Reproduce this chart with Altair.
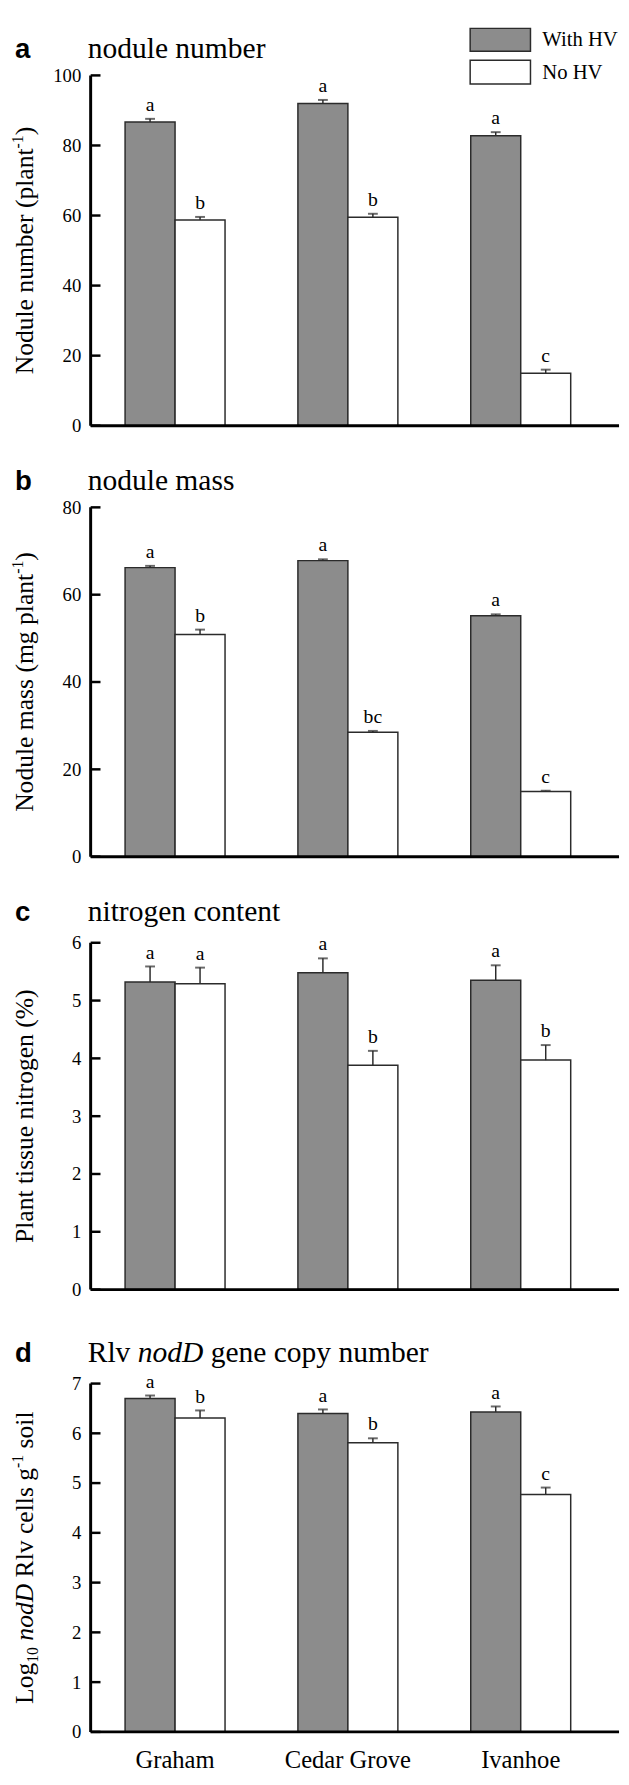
import altair as alt
import pandas as pd

# ---------------- data ----------------
cultivars = ["Graham", "Cedar Grove", "Ivanhoe"]
treatments = ["With HV", "No HV"]

# (a) nodule number
num_with = [86.7, 92.0, 82.8]
num_with_se = [0.9, 1.0, 1.0]
num_with_sig = ["a", "a", "a"]
num_no = [58.7, 59.5, 15.0]
num_no_se = [0.9, 1.0, 1.0]
num_no_sig = ["b", "b", "c"]
num_ticks = [0, 20, 40, 60, 80, 100]

# (b) nodule mass
mass_with = [66.2, 67.8, 55.2]
mass_with_se = [0.4, 0.3, 0.3]
mass_with_sig = ["a", "a", "a"]
mass_no = [50.9, 28.5, 14.9]
mass_no_se = [1.1, 0.3, 0.2]
mass_no_sig = ["b", "bc", "c"]
mass_ticks = [0, 20, 40, 60, 80]

# (c) nitrogen content
nit_with = [5.32, 5.48, 5.35]
nit_with_se = [0.27, 0.25, 0.26]
nit_with_sig = ["a", "a", "a"]
nit_no = [5.29, 3.88, 3.97]
nit_no_se = [0.28, 0.25, 0.26]
nit_no_sig = ["a", "b", "b"]
nit_ticks = [0, 1, 2, 3, 4, 5, 6]

# (d) Rlv nodD gene copy number
nod_with = [6.70, 6.40, 6.43]
nod_with_se = [0.06, 0.08, 0.11]
nod_with_sig = ["a", "a", "a"]
nod_no = [6.31, 5.81, 4.77]
nod_no_se = [0.15, 0.09, 0.14]
nod_no_sig = ["b", "b", "c"]
nod_ticks = [0, 1, 2, 3, 4, 5, 6, 7]

panel_letters = ["a", "b", "c", "d"]
panel_titles = [
    [("nodule number", "normal")],
    [("nodule mass", "normal")],
    [("nitrogen content", "normal")],
    [("Rlv ", "normal"), ("nodD", "italic"), (" gene copy number", "normal")],
]
y_titles = [
    [("Nodule number (plant", "main"), ("-1", "sup"), (")", "main")],
    [("Nodule mass (mg plant", "main"), ("-1", "sup"), (")", "main")],
    [("Plant tissue nitrogen (%)", "main")],
    [("Log", "main"), ("10", "sub"), (" ", "main"), ("nodD", "italic"),
     (" Rlv cells g", "main"), ("-1", "sup"), (" soil", "main")],
]

# ---------------- layout / style ----------------
SERIF = "Liberation Serif"
SANS = "Liberation Sans"
DARK = "#8c8c8c"
EDGE = "#2b2b2b"
W = 537
SPACING = 80
PLOT_TOP = [60.5, 499.5, 942.0, 1390.0]
PLOT_BOT = [416.5, 854.5, 1294.5, 1744.0]
TITLE_BASE = [43.0, 481.7, 920.0, 1368.3]
TITLE_SIZE = 30
YT_SIZE = 26
YT_X = -59
LEG_RECT_X = (385.7, 447.0)
LEG_RECT_Y = [(-47.8, -24.5), (-15.5, 8.8)]
LEG_TEXT_X = 459.0
LEG_TEXT_Y = [-30.2, 3.8]

TW = {' ': 250, '(': 333, ')': 333, '%': 833, '-': 333, 'C': 667, 'D': 722, 'G': 722,
      'H': 722, 'I': 333, 'L': 611, 'N': 722, 'P': 556, 'R': 667, 'V': 722, 'W': 944,
      'a': 444, 'b': 500, 'c': 444, 'd': 500, 'e': 444, 'g': 500, 'h': 500, 'i': 278,
      'l': 278, 'm': 778, 'n': 500, 'o': 500, 'p': 500, 'r': 333, 's': 389, 't': 278,
      'u': 500, 'v': 500, 'y': 500}


def tw(s, size):
    return sum(TW.get(ch, 500) for ch in s) * size / 1000.0


def text_chart(t, x, y, size, font=SERIF, style="normal", weight="normal",
               angle=0, align="left"):
    return alt.Chart(pd.DataFrame({"t": [t]})).mark_text(
        font=font, fontSize=size, fontStyle=style, fontWeight=weight,
        angle=angle, align=align, baseline="alphabetic", color="black"
    ).encode(x=alt.value(x), y=alt.value(y), text="t:N")


color_scale = alt.Scale(domain=treatments, range=[DARK, "#ffffff"])


def legend_layers():
    out = []
    for k, name in enumerate(treatments):
        d = pd.DataFrame({"treatment": [name]})
        out.append(alt.Chart(d).mark_rect(stroke=EDGE, strokeWidth=1.5).encode(
            x=alt.value(LEG_RECT_X[0]), x2=alt.value(LEG_RECT_X[1]),
            y=alt.value(LEG_RECT_Y[k][0]), y2=alt.value(LEG_RECT_Y[k][1]),
            fill=alt.Fill("treatment:N", scale=color_scale, legend=None)))
        out.append(alt.Chart(d).mark_text(font=SERIF, fontSize=21, align="left",
                                          baseline="alphabetic", color="black").encode(
            x=alt.value(LEG_TEXT_X), y=alt.value(LEG_TEXT_Y[k]), text="treatment:N"))
    return out


def build_panel(i, w, w_se, w_sig, n, n_se, n_sig, ticks):
    rows = []
    for k, c in enumerate(cultivars):
        rows.append({"cultivar": c, "treatment": treatments[0], "mean": w[k],
                     "upper": w[k] + w_se[k], "sig": w_sig[k]})
        rows.append({"cultivar": c, "treatment": treatments[1], "mean": n[k],
                     "upper": n[k] + n_se[k], "sig": n_sig[k]})
    df = pd.DataFrame(rows)

    region_top = PLOT_TOP[0] if i == 0 else PLOT_BOT[i - 1] + SPACING
    extra = PLOT_TOP[i] - region_top
    region_h = PLOT_BOT[i] - region_top
    plot_h = PLOT_BOT[i] - PLOT_TOP[i]
    top_tick = max(ticks)
    dom_max = top_tick * region_h / plot_h

    yscale = alt.Scale(domain=[0, dom_max], nice=False, zero=True)
    xscale = alt.Scale(paddingInner=0.4216, paddingOuter=0.2394, align=0.416)
    xaxis = alt.Axis(title=None, labelAngle=0, labelFont=SERIF, labelFontSize=25,
                     labelColor="black", labelPadding=16, ticks=False,
                     domain=False, grid=False, labels=(i == 3))
    yaxis = alt.Axis(values=ticks, title=None, domain=False, ticks=False, grid=False,
                     labelFont=SERIF, labelFontSize=19, labelColor="black",
                     labelPadding=10)
    X = alt.X("cultivar:N", sort=cultivars, scale=xscale, axis=xaxis)
    XO = alt.XOffset("treatment:N", sort=treatments,
                     scale=alt.Scale(paddingInner=0, paddingOuter=0))

    bars = alt.Chart(df).mark_bar(stroke=EDGE, strokeWidth=1.5).encode(
        x=X, xOffset=XO,
        y=alt.Y("mean:Q", scale=yscale, axis=yaxis),
        fill=alt.Fill("treatment:N", scale=color_scale, legend=None),
    )
    err = alt.Chart(df).mark_rule(color=EDGE, strokeWidth=1.5).encode(
        x=X, xOffset=XO, y=alt.Y("mean:Q", scale=yscale, axis=yaxis), y2="upper:Q")
    cap = alt.Chart(df).mark_tick(color=EDGE, thickness=2, size=10).encode(
        x=X, xOffset=XO, y=alt.Y("upper:Q", scale=yscale, axis=yaxis))
    sig = alt.Chart(df).mark_text(font=SERIF, fontSize=20, baseline="alphabetic",
                                  dy=-8, color="black").encode(
        x=X, xOffset=XO, y=alt.Y("upper:Q", scale=yscale, axis=yaxis), text="sig:N")

    tdf = pd.DataFrame({"v": ticks})
    tick_rules = alt.Chart(tdf).mark_rule(color="black", strokeWidth=2.5).encode(
        y=alt.Y("v:Q", scale=yscale, axis=yaxis), x=alt.value(0), x2=alt.value(10))
    ldf = pd.DataFrame({"lo": [min(ticks)], "hi": [top_tick]})
    y_line = alt.Chart(ldf).mark_rule(color="black", strokeWidth=3).encode(
        y=alt.Y("lo:Q", scale=yscale, axis=yaxis), y2="hi:Q", x=alt.value(0))
    x_line = alt.Chart(ldf).mark_rule(color="black", strokeWidth=3).encode(
        y=alt.Y("lo:Q", scale=yscale, axis=yaxis), x=alt.value(0), x2=alt.value(W))

    layers = [bars, err, cap, sig, tick_rules, y_line, x_line]

    # panel letter and title
    base_y = TITLE_BASE[i] - region_top
    layers.append(text_chart(panel_letters[i], -77, base_y, 28, font=SANS,
                             weight="bold"))
    x0 = -3
    for txt, style in panel_titles[i]:
        lead = len(txt) - len(txt.lstrip(" "))
        layers.append(text_chart(txt.strip(" "), x0 + tw(" " * lead, TITLE_SIZE),
                                 base_y, TITLE_SIZE, style=style))
        x0 += tw(txt, TITLE_SIZE)

    # rotated y title built from segments
    segs = []
    for txt, kind in y_titles[i]:
        if kind in ("sup", "sub"):
            size, shift, style = 16, (-10 if kind == "sup" else 5), "normal"
        else:
            size, shift = YT_SIZE, 0
            style = "italic" if kind == "italic" else "normal"
        segs.append((txt, size, shift, style, tw(txt, size)))
    total = sum(s[4] for s in segs)
    cy = extra + plot_h / 2.0
    ypos = cy + total / 2.0
    for txt, size, shift, style, wdt in segs:
        lead = len(txt) - len(txt.lstrip(" "))
        core = txt.strip(" ")
        if core:
            layers.append(text_chart(core, YT_X + shift, ypos - tw(" " * lead, size),
                                     size, style=style, angle=270, align="left"))
        ypos -= wdt

    if i == 0:
        layers += legend_layers()

    return alt.layer(*layers).properties(width=W, height=region_h)


panels = [
    build_panel(0, num_with, num_with_se, num_with_sig, num_no, num_no_se, num_no_sig, num_ticks),
    build_panel(1, mass_with, mass_with_se, mass_with_sig, mass_no, mass_no_se, mass_no_sig, mass_ticks),
    build_panel(2, nit_with, nit_with_se, nit_with_sig, nit_no, nit_no_se, nit_no_sig, nit_ticks),
    build_panel(3, nod_with, nod_with_se, nod_with_sig, nod_no, nod_no_se, nod_no_sig, nod_ticks),
]

chart = alt.vconcat(*panels, spacing=SPACING, bounds="flush").properties(
    padding={"left": 2, "top": 5, "right": 0, "bottom": 0},
    background="white",
).configure_view(stroke=None)

chart.save("out.html", embed_options={"renderer": "svg", "actions": False})
